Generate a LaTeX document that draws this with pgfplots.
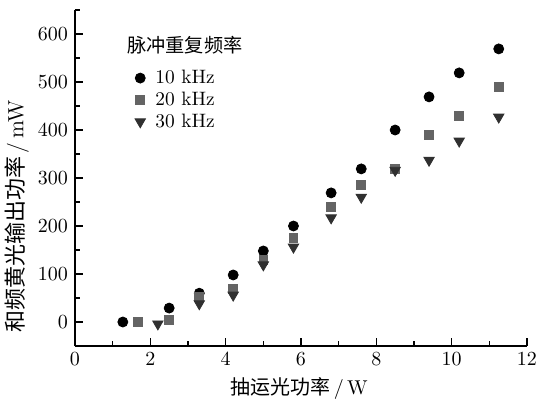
\documentclass[border=0pt]{standalone}
\usepackage{pgfplots}
\pgfplotsset{compat=1.18}
\usepackage{fontspec}
\newfontfamily\cjk{Noto Sans CJK SC}
\definecolor{sqgray}{HTML}{646464}
\definecolor{trigray}{HTML}{303030}
\begin{document}
\begin{tikzpicture}
\useasboundingbox (-37.5pt,-28.5pt) rectangle (231.5pt,173pt);
\begin{axis}[
  scale only axis,
  width=226pt, height=168pt,
  xmin=0, xmax=12, ymin=-50, ymax=650,
  axis x line*=bottom, axis y line*=left,
  axis line style={line width=0.8pt},
  tick align=inside,
  major tick length=4pt, minor tick length=2.5pt,
  tick style={line width=0.7pt, black},
  xtick={0,2,...,12}, minor xtick={1,3,...,11},
  ytick={0,100,...,600}, minor ytick={-50,50,150,...,650},
  tick label style={font=\fontsize{9.7}{11}\selectfont},
  xlabel={{\cjk 抽运光功率}\,/\,W},
  ylabel={{\cjk 和频黄光输出功率}\,/\,mW},
  xlabel style={at={(axis description cs:0.496,0)}, yshift=-21.5pt, anchor=center, font=\fontsize{10}{12}\selectfont},
  ylabel style={at={(axis description cs:-0.129,0.385)}, anchor=center, font=\fontsize{11}{13}\selectfont},
  legend style={at={(axis description cs:0.132,0.835)}, anchor=north west, draw=none, fill=none,
    font=\fontsize{9.7}{11}\selectfont, row sep=-1.3pt, column sep=3pt, inner sep=0pt},
  legend cell align=left,
]
\addplot[only marks, mark=*, mark size=2.5pt, black] coordinates {
 (1.27,0) (2.5,29) (3.3,60) (4.2,98) (5.0,148) (5.8,200) (6.8,269) (7.6,319) (8.5,400) (9.4,469) (10.2,519) (11.25,569)};
\addlegendentry{10 kHz}
\addplot[only marks, mark=square*, mark size=2.2pt, sqgray, mark options={draw=sqgray, fill=sqgray}] coordinates {
 (1.68,0) (2.5,4) (3.3,52) (4.2,69) (5.0,129) (5.8,175) (6.8,240) (7.6,285) (8.5,319) (9.4,390) (10.2,430) (11.25,490)};
\addlegendentry{20 kHz}
\addplot[only marks, mark=triangle*, mark size=3pt, trigray, mark options={rotate=180, draw=trigray, fill=trigray}] coordinates {
 (2.2,-4) (3.3,38) (4.2,56) (5.0,119) (5.8,156) (6.8,217) (7.6,260) (8.5,316) (9.4,337) (10.2,377) (11.25,427)};
\addlegendentry{30 kHz}
\node[anchor=west, font=\fontsize{9.6}{11}\selectfont\cjk, inner sep=0pt] at (axis cs:1.38,577) {脉冲重复频率};
\end{axis}
\end{tikzpicture}
\end{document}
